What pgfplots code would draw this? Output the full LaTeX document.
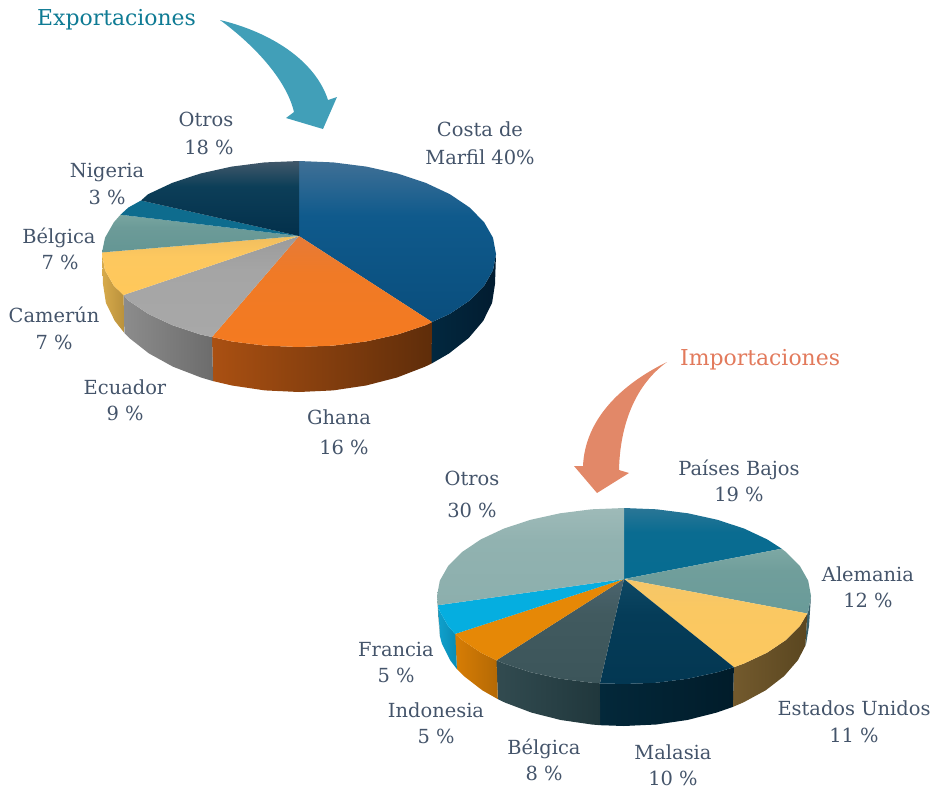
\documentclass[border=0pt]{standalone}
\usepackage{pgfplots}
\pgfplotsset{compat=1.18}
\usepackage{fontspec}
\setmainfont{DejaVu Serif}
\definecolor{lab}{HTML}{44546A}
\definecolor{teal}{HTML}{419FB8}
\definecolor{coral}{HTML}{E28868}
\definecolor{ttlA}{HTML}{0F7B94}
\definecolor{ttlB}{HTML}{E27A5C}
\newcommand\lab[3]{\node[anchor=base,text=lab,font=\fontsize{19.5}{22}\selectfont,inner sep=0pt] at (axis cs:#1,#2) {#3};}
% colour triples: \tri{name}{a}{b}{c}
\newcommand\tri[4]{\definecolor{#1a}{HTML}{#2}\definecolor{#1b}{HTML}{#3}\definecolor{#1c}{HTML}{#4}%
  \pgfdeclareverticalshading{#1G}{100bp}{color(0bp)=(#1c); color(25bp)=(#1c); color(58bp)=(#1b); color(75bp)=(#1a); color(100bp)=(#1a)}}
\tikzset{vg/.style={draw=none,shade,shading=#1G},
         hg/.style={draw=none,shade,left color=#1a,middle color=#1b,right color=#1c}}
% sides, first pie
\tri{sCosta}{02283F}{022037}{021C30}
\tri{sGhana}{AA5012}{873E0E}{5F2D0A}
\tri{sEcu}{8C8C8C}{7A7A7A}{6C6C6C}
\tri{sCam}{D7AA4B}{CDA041}{B9913C}
% tops, first pie
\tri{tCosta}{407096}{0F5A8C}{0A4E7D}
\tri{tGhana}{E67A37}{F07A26}{F47A20}
\tri{tEcu}{9B9B9B}{A5A5A5}{A8A8A8}
\tri{tCam}{F0BE5F}{FDC85F}{FFC85A}
\tri{tBel}{78A5A0}{6C9B98}{649694}
\tri{tOtros}{42586A}{0C3E58}{03304B}
\definecolor{tNig}{HTML}{0E6C8E}
% sides, second pie
\definecolor{sAle}{HTML}{375F69}
\tri{sEE}{735A2D}{695228}{5A4620}
\tri{sMal}{03283A}{012232}{011C2A}
\tri{sBel}{324B50}{2A4146}{20373C}
\tri{sInd}{D77D05}{CD7805}{B46905}
\tri{sFra}{0FA0CD}{0C96C3}{0A8CB4}
\definecolor{sOt}{HTML}{739694}
% tops, second pie
\tri{uPB}{2A7696}{0A6C91}{066C91}
\tri{uAle}{7DA8A4}{709E9B}{699B99}
\tri{uEE}{F5C669}{FAC862}{FCC85F}
\tri{uMal}{0E4864}{053C58}{033752}
\tri{uBel}{4B646E}{415A5F}{3C555A}
\tri{uOt}{9EBAB8}{91B2B0}{8CAFAD}
\definecolor{uInd}{HTML}{E68806}
\definecolor{uFra}{HTML}{05AEE0}
\begin{document}
\begin{tikzpicture}
\useasboundingbox (0,0) rectangle (936bp,790bp);
\begin{axis}[at={(0,0)},anchor=south west,width=936bp,height=790bp,scale only axis,hide axis,clip=false,
  xmin=0,xmax=936,ymin=0,ymax=790,y dir=reverse]
% ---------- Exportaciones: sides
\addplot[hg=sCosta] coordinates {(432,322)(449.9,313.8)(469.6,300.5)(484.1,285.8)(493,270.2)(496,254)(495,284)(492.1,302.8)(483.2,320.9)(468.7,338)(449.1,353.4)(431.5,363.6)} --cycle;
\addplot[hg=sGhana] coordinates {(212,337)(231.6,341.4)(264.7,345.6)(299,347)(333.3,345.6)(366.4,341.4)(397.5,334.5)(425.6,325.2)(432,322)(431.5,363.6)(425,366.7)(397,377.5)(366,385.5)(333.1,390.4)(299,392)(264.9,390.4)(232,385.5)(213.1,381.1)} --cycle;
\addplot[hg=sEcu] coordinates {(123.5,295)(128.4,300.5)(148.1,313.8)(172.4,325.2)(200.5,334.5)(212,337)(213.1,381.1)(201,377.5)(173,366.7)(148.9,353.4)(129.3,338)(124.4,333)} --cycle;
\addplot[hg=sCam] coordinates {(102,252.4)(102,254)(105,270.2)(113.9,285.8)(123.5,295)(124.4,333)(114.8,320.9)(105.9,302.8)(103,284)} --cycle;
% ---------- Exportaciones: top faces
\addplot[vg=tCosta] coordinates {(299,236)(299,161)(333.3,162.4)(366.4,166.6)(397.5,173.5)(425.6,182.8)(449.9,194.2)(469.6,207.5)(484.1,222.2)(493,237.8)(496,254)(493,270.2)(484.1,285.8)(469.6,300.5)(449.9,313.8)(432,322)} --cycle;
\addplot[vg=tGhana] coordinates {(299,236)(432,322)(425.6,325.2)(397.5,334.5)(366.4,341.4)(333.3,345.6)(299,347)(264.7,345.6)(231.6,341.4)(212,337)} --cycle;
\addplot[vg=tEcu] coordinates {(299,236)(212,337)(200.5,334.5)(172.4,325.2)(148.1,313.8)(128.4,300.5)(123.5,295)} --cycle;
\addplot[vg=tCam] coordinates {(299,236)(123.5,295)(113.9,285.8)(105,270.2)(102,254)(102,252.4)} --cycle;
\addplot[vg=tBel] coordinates {(299,236)(102,252.4)(105,237.8)(113.9,222.2)(120.5,214.7)} --cycle;
\addplot[draw=none,fill=tNig] coordinates {(299,236)(120.5,214.7)(128.4,207.5)(141,200.5)} --cycle;
\addplot[vg=tOtros] coordinates {(299,236)(141,200.5)(148.1,194.2)(172.4,182.8)(200.5,173.5)(231.6,166.6)(264.7,162.4)(299,161)} --cycle;
% ---------- Importaciones: sides
\addplot[draw=none,fill=sAle] coordinates {(811,596)(808.2,611.3)(807.3,613.5)(805.3,645.9)(806.2,643.4)(809,626)} --cycle;
\addplot[hg=sEE] coordinates {(733.9,667.2)(744.2,663.4)(767.2,652.6)(785.9,640)(799.8,626.1)(807.3,613.5)(805.3,645.9)(797.9,660.2)(784.2,676)(765.7,690.3)(743,702.6)(732.8,706.9)} --cycle;
\addplot[hg=sMal] coordinates {(599.9,683.3)(624,684)(656.5,682.7)(688,678.7)(717.5,672.2)(733.9,667.2)(732.8,706.9)(716.5,712.6)(687.3,720)(656.2,724.5)(624,726)(600.1,725.2)} --cycle;
\addplot[hg=sBel] coordinates {(496.5,660.3)(503.8,663.4)(530.5,672.2)(560,678.7)(591.5,682.7)(599.9,683.3)(600.1,725.2)(591.8,724.5)(560.7,720)(531.5,712.6)(505,702.6)(497.8,699.1)} --cycle;
\addplot[hg=sInd] coordinates {(455.2,633.9)(462.1,640)(480.8,652.6)(496.5,660.3)(497.8,699.1)(482.3,690.3)(463.8,676)(456.9,669.1)} --cycle;
\addplot[hg=sFra] coordinates {(438,605.2)(439.8,611.3)(448.2,626.1)(455.2,633.9)(456.9,669.1)(450.1,660.2)(441.8,643.4)(440,636.5)} --cycle;
\addplot[draw=none,fill=sOt] coordinates {(437,596)(438,605.2)(440,636.5)(439,626)} --cycle;
% ---------- Importaciones: top faces
\addplot[vg=uPB] coordinates {(624,579)(624,508)(656.5,509.3)(688,513.3)(717.5,519.8)(744.2,528.6)(767.2,539.4)(781.7,548.7)} --cycle;
\addplot[vg=uAle] coordinates {(624,579)(781.7,548.7)(785.9,552)(799.8,565.9)(808.2,580.7)(811,596)(808.2,611.3)(807.3,613.5)} --cycle;
\addplot[vg=uEE] coordinates {(624,579)(807.3,613.5)(799.8,626.1)(785.9,640)(767.2,652.6)(744.2,663.4)(733.9,667.2)} --cycle;
\addplot[vg=uMal] coordinates {(624,579)(733.9,667.2)(717.5,672.2)(688,678.7)(656.5,682.7)(624,684)(599.9,683.3)} --cycle;
\addplot[vg=uBel] coordinates {(624,579)(599.9,683.3)(591.5,682.7)(560,678.7)(530.5,672.2)(503.8,663.4)(496.5,660.3)} --cycle;
\addplot[draw=none,fill=uInd] coordinates {(624,579)(496.5,660.3)(480.8,652.6)(462.1,640)(455.2,633.9)} --cycle;
\addplot[draw=none,fill=uFra] coordinates {(624,579)(455.2,633.9)(448.2,626.1)(439.8,611.3)(438,605.2)} --cycle;
\addplot[vg=uOt] coordinates {(624,579)(438,605.2)(437,596)(439.8,580.7)(448.2,565.9)(462.1,552)(480.8,539.4)(503.8,528.6)(530.5,519.8)(560,513.3)(591.5,509.3)(624,508)} --cycle;
% ---------- arrows
\fill[teal] (axis cs:220,20) .. controls (axis cs:270,32) and (axis cs:315,60) .. (axis cs:328,100) -- (axis cs:337,97) -- (axis cs:323,129) -- (axis cs:286,118) -- (axis cs:294,112) .. controls (axis cs:287,82) and (axis cs:258,48) .. (axis cs:220,20) -- cycle;
\fill[coral] (axis cs:667,362) .. controls (axis cs:620,385) and (axis cs:585,420) .. (axis cs:583,466) -- (axis cs:574,466) -- (axis cs:597,493) -- (axis cs:629,473) -- (axis cs:619,470) .. controls (axis cs:620,425) and (axis cs:635,385) .. (axis cs:667,362) -- cycle;
% ---------- titles
\node[anchor=base west,text=ttlA,font=\fontsize{22}{26}\selectfont,inner sep=0pt] at (axis cs:37,25) {Exportaciones};
\node[anchor=base west,text=ttlB,font=\fontsize{22}{26}\selectfont,inner sep=0pt] at (axis cs:680,365) {Importaciones};
% ---------- labels
\lab{206}{126}{Otros}\lab{209}{154}{18 \%}
\lab{480}{136}{Costa de}\lab{480}{164}{Marfil 40\%}
\lab{107}{177}{Nigeria}\lab{107}{204}{3 \%}
\lab{59}{243}{Bélgica}\lab{60}{269}{7 \%}
\lab{54}{322}{Camerún}\lab{54}{349}{7 \%}
\lab{125}{394}{Ecuador}\lab{125}{420}{9 \%}
\lab{339}{424}{Ghana}\lab{344}{454}{16 \%}
\lab{472}{485}{Otros}\lab{472}{517}{30 \%}
\lab{739}{475}{Países Bajos}\lab{739}{501}{19 \%}
\lab{868}{581}{Alemania}\lab{868}{607}{12 \%}
\lab{854}{715}{Estados Unidos}\lab{854}{742}{11 \%}
\lab{396}{656}{Francia}\lab{396}{682}{5 \%}
\lab{436}{717}{Indonesia}\lab{436}{743}{5 \%}
\lab{544}{754}{Bélgica}\lab{544}{780}{8 \%}
\lab{673}{759}{Malasia}\lab{673}{785}{10 \%}
\end{axis}
\end{tikzpicture}
\end{document}
